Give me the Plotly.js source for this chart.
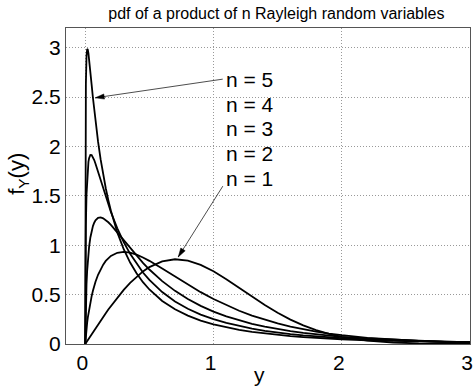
<!DOCTYPE html>
<html>
<head>
<meta charset="utf-8">
<script src="https://cdn.plot.ly/plotly-3.0.1.min.js"></script>
<style>html,body{margin:0;padding:0;background:#fff;}#chart{width:474px;height:386px;}</style>
</head>
<body>
<div id="chart"></div>
<script>
// sample points of y
var yVals = [0, 0.002, 0.005, 0.01, 0.015, 0.02, 0.025, 0.03, 0.04, 0.05, 0.06, 0.07, 0.08, 0.1, 0.12, 0.14, 0.16, 0.18, 0.2, 0.25, 0.3, 0.35, 0.4, 0.45, 0.5, 0.6, 0.7, 0.8, 0.9, 1.0, 1.1, 1.2, 1.3, 1.4, 1.5, 1.6, 1.7, 1.8, 1.9, 2.0, 2.2, 2.4, 2.6, 2.8, 3.0];
// pdf values f_Y(y) for n = 1..5
var pdfN1 = [0, 0.004, 0.010, 0.020, 0.030, 0.040, 0.050, 0.060, 0.080, 0.100, 0.120, 0.139, 0.159, 0.198, 0.237, 0.275, 0.312, 0.349, 0.384, 0.470, 0.548, 0.619, 0.682, 0.735, 0.779, 0.837, 0.858, 0.844, 0.801, 0.736, 0.656, 0.569, 0.480, 0.394, 0.316, 0.247, 0.189, 0.141, 0.103, 0.073, 0.035, 0.015, 0.006, 0.002, 0.001];
var pdfN2 = [0, 0.045, 0.094, 0.161, 0.217, 0.267, 0.311, 0.352, 0.424, 0.485, 0.539, 0.587, 0.630, 0.701, 0.758, 0.804, 0.841, 0.869, 0.892, 0.924, 0.933, 0.925, 0.905, 0.876, 0.842, 0.764, 0.682, 0.601, 0.525, 0.456, 0.393, 0.337, 0.288, 0.245, 0.208, 0.177, 0.149, 0.126, 0.106, 0.089, 0.063, 0.044, 0.031, 0.021, 0.015];
var pdfN3 = [0, 0.239, 0.418, 0.609, 0.741, 0.840, 0.919, 0.983, 1.079, 1.146, 1.194, 1.228, 1.252, 1.277, 1.282, 1.273, 1.256, 1.233, 1.207, 1.130, 1.049, 0.969, 0.893, 0.821, 0.754, 0.637, 0.538, 0.455, 0.386, 0.328, 0.280, 0.239, 0.205, 0.176, 0.151, 0.130, 0.112, 0.097, 0.084, 0.073, 0.056, 0.042, 0.033, 0.025, 0.019];
var pdfN4 = [0, 0.818, 1.206, 1.518, 1.684, 1.783, 1.844, 1.882, 1.914, 1.913, 1.893, 1.863, 1.826, 1.743, 1.657, 1.571, 1.489, 1.411, 1.337, 1.172, 1.032, 0.913, 0.812, 0.724, 0.649, 0.526, 0.431, 0.357, 0.298, 0.251, 0.213, 0.181, 0.155, 0.134, 0.116, 0.101, 0.088, 0.077, 0.067, 0.059, 0.046, 0.036, 0.029, 0.023, 0.019];
var pdfN5 = [0, 2.094, 2.638, 2.918, 2.987, 2.981, 2.942, 2.887, 2.759, 2.624, 2.494, 2.371, 2.256, 2.049, 1.869, 1.713, 1.577, 1.457, 1.350, 1.130, 0.960, 0.825, 0.716, 0.626, 0.552, 0.436, 0.351, 0.287, 0.237, 0.199, 0.168, 0.143, 0.122, 0.106, 0.092, 0.080, 0.070, 0.061, 0.054, 0.048, 0.038, 0.031, 0.025, 0.020, 0.017];
var seriesNames = ['n = 1', 'n = 2', 'n = 3', 'n = 4', 'n = 5'];
var xTicks = [0, 1, 2, 3];
var xTickText = ['0', '1', '2', '3'];
var yTicks = [0, 0.5, 1, 1.5, 2, 2.5, 3];
var yTickText = ['0', '0.5', '1', '1.5', '2', '2.5', '3'];

var FONT = 'Liberation Sans, Arial, Helvetica, sans-serif';
var X_RANGE = [-0.15, 3], Y_RANGE = [0, 3.2];
var M = {l: 66, r: 4, t: 28, b: 42}, W = 474, H = 386;
var pxPerX = (W - M.l - M.r) / (X_RANGE[1] - X_RANGE[0]);
var pxPerY = (H - M.t - M.b) / (Y_RANGE[1] - Y_RANGE[0]);

var allPdf = [pdfN1, pdfN2, pdfN3, pdfN4, pdfN5];
var traces = allPdf.map(function (p, i) {
  return {x: yVals, y: p, type: 'scatter', mode: 'lines', name: seriesNames[i],
    line: {color: '#000', width: 1.8}, hoverinfo: 'skip'};
});

// text labels, listed from top (n = 5) to bottom (n = 1)
var labelOrder = [4, 3, 2, 1, 0];
var labelY = [2.68, 2.43, 2.18, 1.93, 1.68];
var annotations = labelOrder.map(function (k, i) {
  return {x: 1.085, y: labelY[i], xref: 'x', yref: 'y', xanchor: 'left', yanchor: 'middle',
    text: seriesNames[k], showarrow: false, font: {family: FONT, size: 21, color: '#000'}};
});

// pointer arrows (label -> curve) drawn as shapes
var pointers = [
  {tail: [1.072, 2.682], head: [0.078, 2.493]},
  {tail: [1.073, 1.599], head: [0.725, 0.881]}
];
var shapes = [];
pointers.forEach(function (a) {
  shapes.push({type: 'line', xref: 'x', yref: 'y', x0: a.tail[0], y0: a.tail[1], x1: a.head[0], y1: a.head[1],
    line: {color: '#000', width: 0.7}});
  var dx = (a.head[0] - a.tail[0]) * pxPerX, dy = (a.head[1] - a.tail[1]) * pxPerY;
  var len = Math.sqrt(dx * dx + dy * dy), ux = dx / len, uy = dy / len;
  var L = 9, Hw = 2.6;
  var bx = -ux * L, by = -uy * L, px = -uy * Hw, py = ux * Hw;
  var path = 'M0,0 L' + (bx + px).toFixed(2) + ',' + (by + py).toFixed(2) +
    ' L' + (bx - px).toFixed(2) + ',' + (by - py).toFixed(2) + ' Z';
  shapes.push({type: 'path', xref: 'x', yref: 'y', xsizemode: 'pixel', ysizemode: 'pixel',
    xanchor: a.head[0], yanchor: a.head[1], path: path, fillcolor: '#000', line: {color: '#000', width: 0.5}});
});

var layout = {
  width: W, height: H,
  margin: M,
  paper_bgcolor: '#fff', plot_bgcolor: '#fff',
  showlegend: false,
  font: {family: FONT, color: '#000'},
  title: {text: 'pdf of a product of n Rayleigh random variables', font: {family: FONT, size: 16, color: '#000'},
    x: 0.583, xref: 'container', xanchor: 'center', y: 0.965, yref: 'container', yanchor: 'middle'},
  xaxis: {range: X_RANGE, tickvals: xTicks, ticktext: xTickText, ticks: '',
    showgrid: true, gridcolor: '#999', griddash: '1px,2px', gridwidth: 1,
    showline: true, linecolor: '#555', linewidth: 1, mirror: true, zeroline: false,
    tickfont: {family: FONT, size: 21, color: '#000'}, ticklabelstandoff: 0, ticklabelshift: -3,
    ticklabeloverflow: 'allow',
    title: {text: 'y&nbsp;&nbsp;&nbsp;', font: {family: FONT, size: 21, color: '#000'}, standoff: 0}},
  yaxis: {range: Y_RANGE, tickvals: yTicks, ticktext: yTickText, ticks: '',
    showgrid: true, gridcolor: '#999', griddash: '1px,2px', gridwidth: 1,
    showline: true, linecolor: '#555', linewidth: 1, mirror: true, zeroline: false,
    tickfont: {family: FONT, size: 21, color: '#000'},
    title: {text: '&nbsp;&nbsp;&nbsp;&nbsp;f<sub>Y</sub>(y)', font: {family: FONT, size: 22, color: '#000'}, standoff: 0}},
  annotations: annotations,
  shapes: shapes
};
Plotly.newPlot('chart', traces, layout, {staticPlot: true, displayModeBar: false});
</script>
</body>
</html>
